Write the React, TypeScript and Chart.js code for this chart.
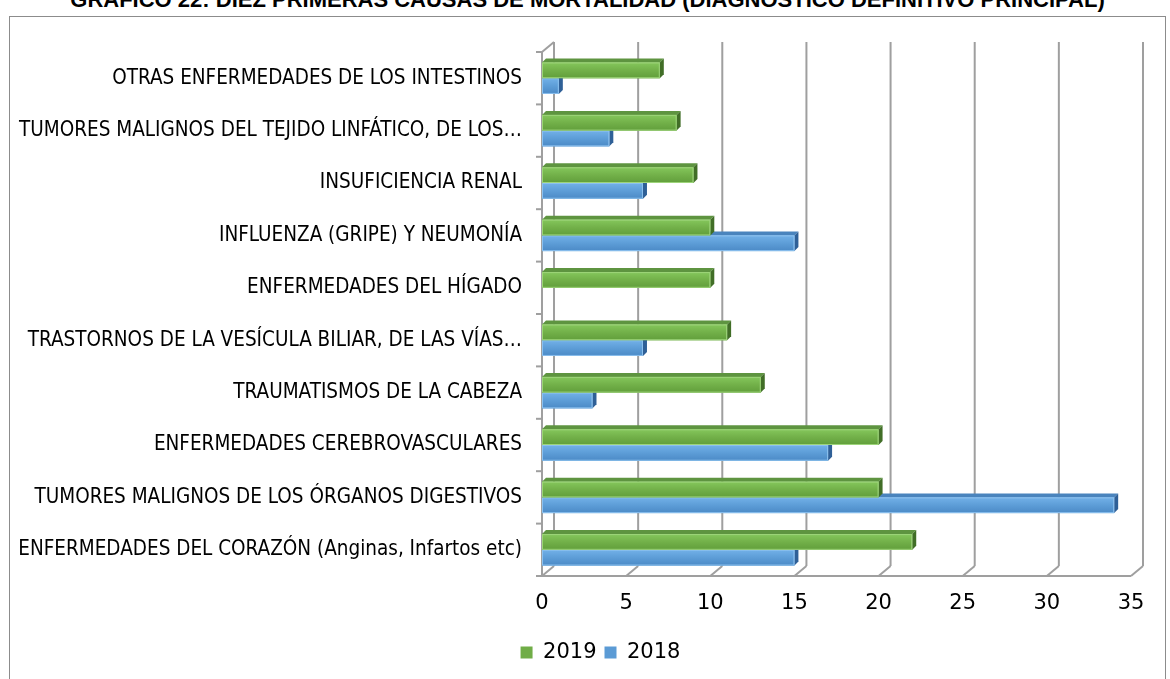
import React, { useEffect, useRef } from "react";
import { Chart, registerables } from "chart.js";

Chart.register(...registerables);

const TITLE = "GRÁFICO 22: DIEZ PRIMERAS CAUSAS DE MORTALIDAD (DIAGNÓSTICO DEFINITIVO PRINCIPAL)";

const categories: string[] = [
  "OTRAS ENFERMEDADES DE LOS INTESTINOS",
  "TUMORES MALIGNOS DEL TEJIDO LINFÁTICO, DE LOS…",
  "INSUFICIENCIA RENAL",
  "INFLUENZA (GRIPE) Y NEUMONÍA",
  "ENFERMEDADES DEL HÍGADO",
  "TRASTORNOS DE LA VESÍCULA BILIAR, DE LAS VÍAS…",
  "TRAUMATISMOS DE LA CABEZA",
  "ENFERMEDADES CEREBROVASCULARES",
  "TUMORES MALIGNOS DE LOS ÓRGANOS DIGESTIVOS",
  "ENFERMEDADES DEL CORAZÓN (Anginas, Infartos etc)",
];

const values2019: number[] = [7, 8, 9, 10, 10, 11, 13, 20, 20, 22];
const values2018: number[] = [1, 4, 6, 15, 0, 6, 3, 17, 34, 15];

const xTicks: number[] = [0, 5, 10, 15, 20, 25, 30, 35];

const LABEL_FONT = "'Liberation Sans Narrow', 'DejaVu Sans Condensed', 'Roboto', sans-serif";
const NUM_FONT = "'DejaVu Sans', 'Liberation Sans', sans-serif";

const DX = 12;
const DY = -10;
const BD = 4;
const LEGEND_SHIFT = 30;

const palette: Record<string, { top: string; mid: string; bot: string; face: string; cap: string; edge: string }> = {
  "2019": { top: "#85c75c", mid: "#72b049", bot: "#619e3b", face: "#5e9440", cap: "#416e27", edge: "#9dd47a" },
  "2018": { top: "#72b1e8", mid: "#5d9dd7", bot: "#4b8ac6", face: "#4a84bd", cap: "#2f6097", edge: "#8cc1ee" },
};

const threeD = {
  id: "threeD",
  afterLayout(chart: any) {
    if (chart.legend) {
      chart.legend.left += LEGEND_SHIFT;
      chart.legend.right += LEGEND_SHIFT;
    }
  },
  beforeDatasetsDraw(chart: any) {
    const { ctx, chartArea: a, scales } = chart;
    const x = scales.x;
    const line = (x1: number, y1: number, x2: number, y2: number) => {
      ctx.beginPath();
      ctx.moveTo(x1, y1);
      ctx.lineTo(x2, y2);
      ctx.stroke();
    };
    ctx.save();
    ctx.strokeStyle = "#9f9f9f";
    ctx.lineWidth = 2;
    x.ticks.forEach((t: any) => {
      const px = x.getPixelForValue(t.value);
      line(px + DX, a.top + DY, px + DX, a.bottom + DY);
      line(px, a.bottom, px + DX, a.bottom + DY);
    });
    line(a.left, a.bottom, a.right, a.bottom);
    line(a.left, a.top, a.left, a.bottom);
    line(a.left, a.top, a.left + DX, a.top + DY);
    const n = categories.length;
    for (let i = 0; i <= n; i++) {
      const py = a.top + (i * a.height) / n;
      line(a.left - 6, py, a.left, py);
    }
    ctx.restore();
  },
  afterDatasetsDraw(chart: any) {
    const { ctx } = chart;
    ctx.save();
    const order = [1, 0];
    order.forEach((di) => {
      const meta = chart.getDatasetMeta(di);
      const ds = chart.data.datasets[di];
      const p = palette[ds.label];
      meta.data.forEach((el: any, i: number) => {
        const v = ds.data[i];
        if (!v) return;
        const L = el.base;
        const R = el.x;
        const T = el.y - el.height / 2;
        const B = el.y + el.height / 2;
        ctx.fillStyle = p.face;
        ctx.beginPath();
        ctx.moveTo(L, T);
        ctx.lineTo(L + BD, T - BD);
        ctx.lineTo(R + BD, T - BD);
        ctx.lineTo(R, T);
        ctx.closePath();
        ctx.fill();
        ctx.fillStyle = p.cap;
        ctx.beginPath();
        ctx.moveTo(R, T);
        ctx.lineTo(R + BD, T - BD);
        ctx.lineTo(R + BD, B - BD);
        ctx.lineTo(R, B);
        ctx.closePath();
        ctx.fill();
        const g = ctx.createLinearGradient(0, T, 0, B);
        g.addColorStop(0, p.top);
        g.addColorStop(0.5, p.mid);
        g.addColorStop(1, p.bot);
        ctx.fillStyle = g;
        ctx.fillRect(L, T, R - L, B - T);
        ctx.strokeStyle = p.edge;
        ctx.lineWidth = 1;
        ctx.strokeRect(L + 0.5, T + 0.5, R - L - 1, B - T - 1);
      });
    });
    ctx.restore();
  },
};

export default function App() {
  const ref = useRef<HTMLCanvasElement | null>(null);
  useEffect(() => {
    if (!ref.current) return;
    const chart = new Chart(ref.current, {
      type: "bar",
      data: {
        labels: categories,
        datasets: [
          { label: "2019", data: values2019, backgroundColor: "#70AD47", borderWidth: 0 },
          { label: "2018", data: values2018, backgroundColor: "#5B9BD5", borderWidth: 0 },
        ],
      },
      options: {
        indexAxis: "y",
        responsive: false,
        animation: false,
        layout: { padding: { left: 0, top: 35, right: 35, bottom: 6 } },
        datasets: { bar: { categoryPercentage: 0.6, barPercentage: 1.0 } },
        scales: {
          x: {
            min: 0,
            max: 35,
            afterBuildTicks: (s: any) => {
              s.ticks = xTicks.map((v) => ({ value: v }));
            },
            afterFit: (s: any) => {
              s.height = 58;
            },
            grid: { display: false, drawTicks: false },
            border: { display: false },
            ticks: { color: "#000", padding: 15, font: { family: NUM_FONT, size: 21 } },
          },
          y: {
            afterFit: (s: any) => {
              s.width = 532;
            },
            grid: { display: false, drawTicks: false },
            border: { display: false },
            ticks: { color: "#000", padding: 20, autoSkip: false, font: { family: LABEL_FONT, size: 20.5 } },
          },
        },
        plugins: {
          legend: {
            position: "bottom",
            labels: {
              color: "#000",
              boxWidth: 12,
              boxHeight: 12,
              padding: 8,
              font: { family: NUM_FONT, size: 21 },
            },
          },
          title: { display: false },
          tooltip: { enabled: false },
        },
      },
      plugins: [threeD],
    } as any);
    return () => chart.destroy();
  }, []);

  return (
    <div style={{ position: "fixed", left: 0, top: 0, width: 1170, height: 679, overflow: "hidden", background: "#fff" }}>
      <div
        style={{
          position: "absolute",
          left: 9,
          width: 1157,
          top: -11,
          textAlign: "center",
          fontFamily: "'Liberation Sans', Arial, sans-serif",
          fontWeight: "bold",
          fontSize: 22,
          lineHeight: "22px",
          color: "#000",
          whiteSpace: "nowrap",
        }}
      >
        {TITLE}
      </div>
      <div
        style={{
          position: "absolute",
          left: 9,
          top: 16,
          width: 1157,
          height: 700,
          border: "1px solid #8c8c8c",
          boxSizing: "border-box",
        }}
      />
      <canvas ref={ref} width={1156} height={662} style={{ position: "absolute", left: 10, top: 17, width: 1156, height: 662 }} />
    </div>
  );
}
